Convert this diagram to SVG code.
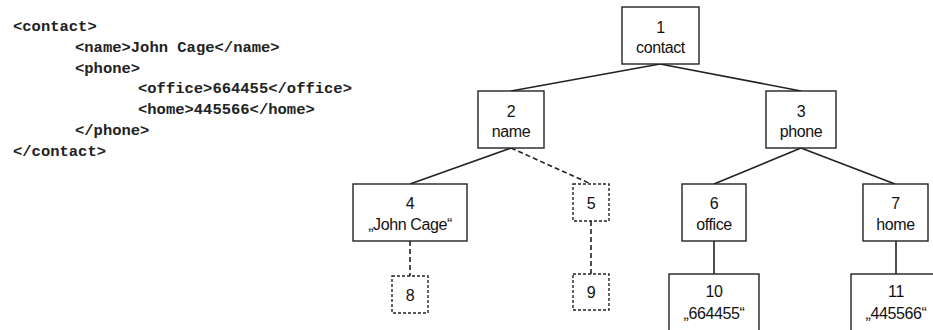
<svg xmlns="http://www.w3.org/2000/svg" width="933" height="330" viewBox="0 0 933 330">
<style>
.code{font-family:"Liberation Mono","Courier New",monospace;font-weight:bold;font-size:15.5px;fill:#222}
.box{fill:#fff;stroke:#222;stroke-width:1.4}
.dbox{fill:#fff;stroke:#222;stroke-width:1.4;stroke-dasharray:3,2}
.t{font-family:"Liberation Sans",Arial,sans-serif;font-size:16px;fill:#111;text-anchor:middle;letter-spacing:-0.4px}
.e{stroke:#222;stroke-width:1.6;fill:none}
.de{stroke:#222;stroke-width:1.6;fill:none;stroke-dasharray:5,3}
</style>
<rect width="933" height="330" fill="#fff"/>
<g id="code">
<text class="code" x="13" y="31">&lt;contact&gt;</text>
<text class="code" x="75" y="52">&lt;name&gt;John Cage&lt;/name&gt;</text>
<text class="code" x="75" y="73">&lt;phone&gt;</text>
<text class="code" x="138" y="93">&lt;office&gt;664455&lt;/office&gt;</text>
<text class="code" x="138" y="114">&lt;home&gt;445566&lt;/home&gt;</text>
<text class="code" x="75" y="135">&lt;/phone&gt;</text>
<text class="code" x="13" y="156">&lt;/contact&gt;</text>
</g>
<g id="connectors">
<line class="e" x1="660" y1="64" x2="511" y2="91"/>
<line class="e" x1="660" y1="64" x2="801" y2="91"/>
<line class="e" x1="511" y1="148" x2="410" y2="184"/>
<line class="de" x1="511" y1="148" x2="591" y2="184"/>
<line class="e" x1="801" y1="148" x2="714" y2="184"/>
<line class="e" x1="801" y1="148" x2="895" y2="184"/>
<line class="de" x1="410" y1="241" x2="410" y2="276"/>
<line class="de" x1="591" y1="221" x2="591" y2="274"/>
<line class="e" x1="714" y1="241" x2="714" y2="274"/>
<line class="e" x1="896" y1="241" x2="896" y2="274"/>
</g>
<g id="n1"><rect class="box" x="622" y="7" width="77" height="57"/><text class="t" x="660.5" y="33">1</text><text class="t" x="660.5" y="53">contact</text></g>
<g id="n2"><rect class="box" x="478" y="91" width="66" height="57"/><text class="t" x="511" y="117">2</text><text class="t" x="511" y="137">name</text></g>
<g id="n3"><rect class="box" x="766" y="91" width="70" height="57"/><text class="t" x="801" y="117">3</text><text class="t" x="801" y="137">phone</text></g>
<g id="n4"><rect class="box" x="353" y="184" width="114" height="57"/><text class="t" x="410" y="209">4</text><text class="t" x="410" y="230">„John Cage“</text></g>
<g id="n5"><rect class="dbox" x="573" y="184" width="36" height="37"/><text class="t" x="591" y="209">5</text></g>
<g id="n6"><rect class="box" x="682" y="184" width="64" height="57"/><text class="t" x="714" y="209">6</text><text class="t" x="714" y="230">office</text></g>
<g id="n7"><rect class="box" x="863" y="184" width="65" height="57"/><text class="t" x="895.5" y="209">7</text><text class="t" x="895.5" y="230">home</text></g>
<g id="n8"><rect class="dbox" x="392" y="276" width="36" height="37"/><text class="t" x="410" y="301">8</text></g>
<g id="n9"><rect class="dbox" x="573" y="274" width="36" height="36"/><text class="t" x="591" y="298">9</text></g>
<g id="n10"><rect class="box" x="669" y="274" width="90" height="70"/><text class="t" x="714" y="297">10</text><text class="t" x="714" y="319">„664455“</text></g>
<g id="n11"><rect class="box" x="851" y="274" width="90" height="70"/><text class="t" x="896" y="297">11</text><text class="t" x="896" y="319">„445566“</text></g>
</svg>
